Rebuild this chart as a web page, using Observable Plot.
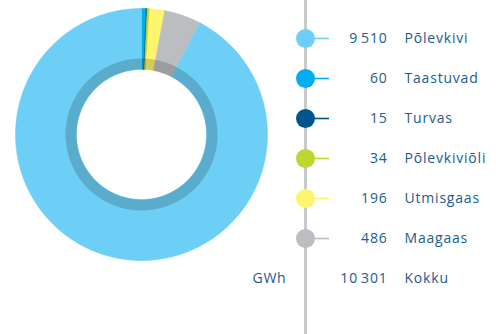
<!DOCTYPE html>
<html>
<head>
<meta charset="utf-8">
<script src="https://cdn.jsdelivr.net/npm/d3@7"></script>
<script src="https://cdn.jsdelivr.net/npm/@observablehq/plot@0.6"></script>
<style>
  html, body { margin: 0; padding: 0; background: #fff; }
  #wrap { position: relative; width: 496px; height: 334px; overflow: hidden; }
  #wrap > div { position: absolute; top: 0; }
</style>
</head>
<body>
<div id="wrap"><div id="donut" style="left:0"></div><div id="legend" style="left:240px"></div></div>
<script>
// ---- data ----
const names = ["Põlevkivi", "Taastuvad", "Turvas", "Põlevkiviõli", "Utmisgaas", "Maagaas"];
const values = [9510, 60, 15, 34, 196, 486];
const colors = ["#6dcff6", "#00aeef", "#00558c", "#bed630", "#fff46d", "#bcbdc0"];
const pieOrder = ["Taastuvad", "Turvas", "Põlevkiviõli", "Utmisgaas", "Maagaas", "Põlevkivi"];
const totalLabel = "Kokku";
const unitLabel = "GWh";

const textColor = "#1b5b8e";
const font = "'Open Sans', 'Noto Sans', sans-serif";

const rows = names.map((name, i) => ({name, value: values[i]}));
const total = d3.sum(values);
const fmt = d3.formatLocale({decimal: ",", thousands: "\u2009", grouping: [3], currency: ["", ""]}).format(",d");

// ---- donut geometry (unit circle, computed from data) ----
const R_IN = 65 / 126, RING_OUT = 76 / 126;
const ordered = pieOrder.map(n => rows.find(r => r.name === n));
const arcs = d3.pie().sort(null).value(d => d.value)(ordered);
const pts = [];
function arcPoints(a0, a1, r) {
  const n = Math.max(2, Math.ceil(Math.abs(a1 - a0) / 0.004));
  const out = [];
  for (let k = 0; k <= n; k++) {
    const a = a0 + (a1 - a0) * k / n;
    out.push([Math.sin(a) * r, Math.cos(a) * r]);
  }
  return out;
}
for (const a of arcs) {
  const poly = [...arcPoints(a.startAngle, a.endAngle, 1), ...arcPoints(a.endAngle, a.startAngle, R_IN)];
  poly.push(poly[0]);
  for (const [x, y] of poly) pts.push({name: a.data.name, x, y});
}
const ring = [...arcPoints(0, 2 * Math.PI, RING_OUT), ...arcPoints(2 * Math.PI, 0, R_IN)].map(([x, y]) => ({x, y}));

const W = 496, H = 334, CX = 141, CY = 134, RPX = 126;
const donut = Plot.plot({
  width: W, height: H,
  margin: 0,
  style: {background: "transparent"},
  x: {domain: [-CX / RPX, (W - CX) / RPX], axis: null},
  y: {domain: [(CY - H) / RPX, CY / RPX], axis: null},
  color: {domain: names, range: colors},
  marks: [
    Plot.line(pts, {x: "x", y: "y", z: "name", fill: "name", stroke: "name", strokeWidth: 0.6}),
    Plot.line(ring, {x: "x", y: "y", fill: "black", fillOpacity: 0.17, stroke: "none"})
  ]
});
document.getElementById("donut").appendChild(donut);

// ---- legend ----
const legendRows = [...rows.map(r => ({name: r.name, label: fmt(r.value)})), {name: totalLabel, label: fmt(total)}];
const legend = Plot.plot({
  width: 256, height: H,
  marginLeft: 65, marginRight: 0, marginTop: 0, marginBottom: 0,
  style: {background: "transparent", fontFamily: font},
  x: {domain: [0, 191], axis: null},
  y: {type: "point", domain: legendRows.map(d => d.name), range: [38, 278], padding: 0, axis: null},
  color: {domain: names, range: colors},
  marks: [
    Plot.ruleX([0], {stroke: "#c9cacc", strokeWidth: 3}),
    Plot.ruleY(rows, {y: "name", x1: 0, x2: 24, stroke: "name", strokeWidth: 1.6}),
    Plot.dot(rows, {y: "name", frameAnchor: "left", r: 9.5, fill: "name", stroke: "none"}),
    Plot.text(legendRows, {y: "name", x: () => 82, text: "label", textAnchor: "end", fill: textColor, fontSize: 14, fontWeight: 500, fontFamily: font}),
    Plot.text(legendRows, {y: "name", x: () => 99, text: "name", textAnchor: "start", fill: textColor, fontSize: 14, fontWeight: 500, fontFamily: font}),
    Plot.text([unitLabel], {y: () => totalLabel, x: () => -19, text: d => d, textAnchor: "end", fill: textColor, fontSize: 14, fontWeight: 500, fontFamily: font})
  ]
});
legend.querySelectorAll("text").forEach(t => t.setAttribute("letter-spacing", "0.8"));
document.getElementById("legend").appendChild(legend);
</script>
</body>
</html>
